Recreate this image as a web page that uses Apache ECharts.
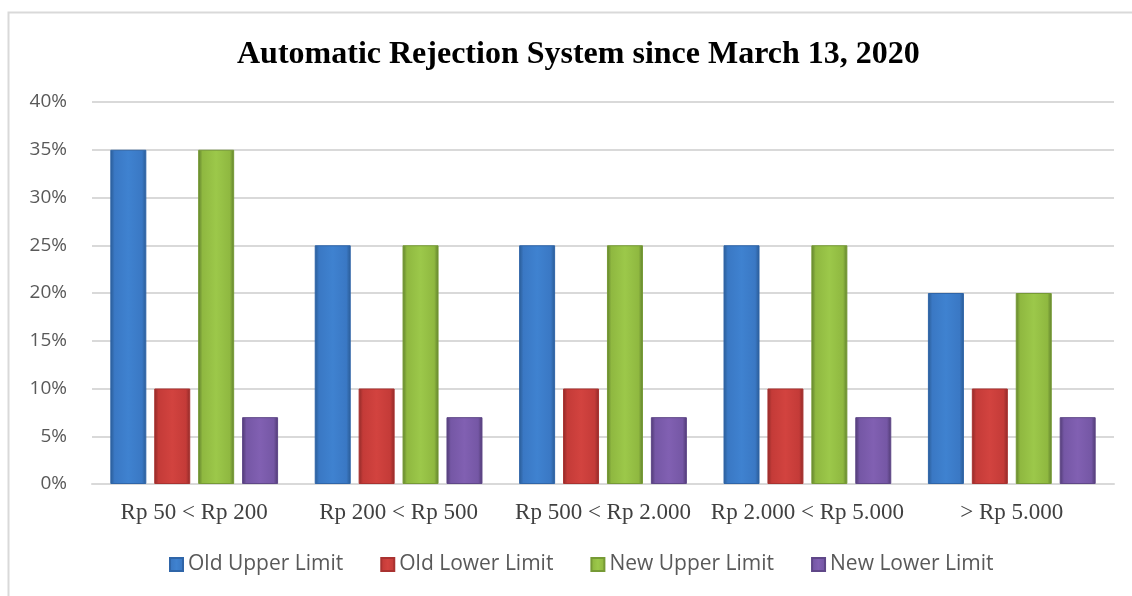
<!DOCTYPE html>
<html>
<head>
<meta charset="utf-8">
<title>Automatic Rejection System</title>
<script src="https://cdn.jsdelivr.net/npm/echarts@6/dist/echarts.min.js"></script>
<style>
  html, body { margin: 0; padding: 0; background: #fff; }
  #chart { width: 1132px; height: 596px; }
</style>
</head>
<body>
<div id="chart"></div>
<script>
// data
const categories = ["Rp 50 < Rp 200", "Rp 200 < Rp 500", "Rp 500 < Rp 2.000", "Rp 2.000 < Rp 5.000", "> Rp 5.000"];
const oldUpper = [35, 25, 25, 25, 20];
const oldLower = [10, 10, 10, 10, 10];
const newUpper = [35, 25, 25, 25, 20];
const newLower = [7, 7, 7, 7, 7];
const seriesNames = ["Old Upper Limit", "Old Lower Limit", "New Upper Limit", "New Lower Limit"];

// bevel-like gradient: dark edges, lighter middle
function bevel(dark, mid, light) {
    return new echarts.graphic.LinearGradient(0, 0, 1, 0, [
        { offset: 0, color: dark },
        { offset: 0.12, color: mid },
        { offset: 0.5, color: light },
        { offset: 0.88, color: mid },
        { offset: 1, color: dark }
    ]);
}

const palette = [
    ["#2a5b94", "#3a78c4", "#3f82d0", "#2f65a8"],
    ["#8f2a28", "#c43b38", "#d2433f", "#a93230"],
    ["#5f7f2c", "#8fb840", "#9cc84a", "#769a35"],
    ["#4f3a72", "#7557a5", "#8160b2", "#5f4788"]
];
const values = [oldUpper, oldLower, newUpper, newLower];

const myChart = echarts.init(document.getElementById("chart"));

myChart.setOption({
    animation: false,
    backgroundColor: "#fff",
    title: {
        text: "Automatic Rejection System since March 13, 2020",
        left: 232,
        top: 34,
        textStyle: {
            fontFamily: "Liberation Serif",
            fontWeight: "bold",
            fontSize: 32,
            color: "#000"
        }
    },
    // chart frame, cropped on the right and bottom
    graphic: [{
        type: "rect",
        shape: { x: 8.5, y: 12.5, width: 1140, height: 600 },
        style: { fill: "none", stroke: "#d9d9d9", lineWidth: 2 },
        silent: true
    }],
    legend: {
        data: seriesNames.map((n, i) => ({ name: n, itemStyle: { color: bevel(palette[i][0], palette[i][1], palette[i][2]) } })),
        bottom: 16,
        left: 164,
        itemWidth: 13,
        itemHeight: 13,
        itemGap: 37,
        icon: "rect",
        textStyle: {
            fontFamily: "Open Sans",
            fontSize: 21,
            color: "#595959"
        }
    },
    grid: {
        left: 92,
        right: 18,
        top: 102,
        bottom: 112
    },
    xAxis: {
        type: "category",
        data: categories,
        axisLine: { lineStyle: { color: "#d9d9d9", width: 2 } },
        axisTick: { show: false },
        axisLabel: {
            interval: 0,
            fontFamily: "Liberation Serif",
            fontSize: 23,
            color: "#404040",
            margin: 17
        }
    },
    yAxis: {
        type: "value",
        min: 0,
        max: 40,
        interval: 5,
        axisLine: { show: false },
        axisTick: { show: false },
        splitLine: { lineStyle: { color: "#d9d9d9", width: 2 } },
        axisLabel: {
            formatter: "{value}%",
            fontFamily: "Open Sans",
            fontSize: 19,
            color: "#595959",
            margin: 25
        }
    },
    series: seriesNames.map((name, i) => ({
        name: name,
        type: "bar",
        data: values[i],
        barWidth: 36,
        barGap: "22%",
        itemStyle: {
            color: bevel(palette[i][0], palette[i][1], palette[i][2]),
            borderColor: palette[i][3],
            borderWidth: 1
        }
    }))
});
</script>
</body>
</html>
